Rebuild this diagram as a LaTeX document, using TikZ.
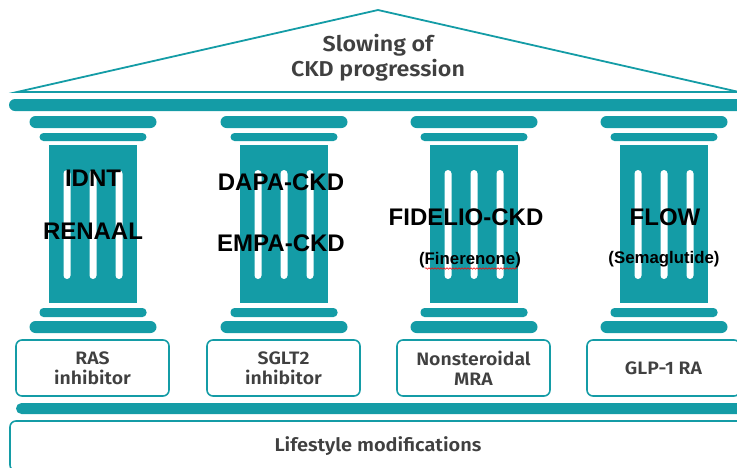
\documentclass[tikz,border=0pt]{standalone}
\usepackage{fontspec}
\setmainfont{Liberation Sans}
\newfontfamily\grayfont{Fira Sans SemiBold}[FakeStretch=1.08]
\usetikzlibrary{decorations.pathmorphing}
\definecolor{teal1}{HTML}{149CA6}
\definecolor{txtgray}{HTML}{404040}
\begin{document}
\begin{tikzpicture}[x=1pt,y=-1pt,
  bar/.style={fill=teal1, rounded corners=#1},
  drugbox/.style={draw=teal1, line width=1.6pt, rounded corners=6pt, minimum width=153pt, minimum height=56pt, inner sep=0pt, align=center, font=\grayfont\fontsize{18}{20}\selectfont, text=txtgray},
  trial/.style={font=\bfseries\fontsize{24}{26}\selectfont, text=black, inner sep=0pt},
  sub/.style={font=\bfseries\fontsize{16.8}{18}\selectfont, text=black, inner sep=0pt},
  rooftext/.style={font=\grayfont\fontsize{21.5}{25}\selectfont, text=txtgray, align=center, inner sep=0pt}]
\useasboundingbox (0,0) rectangle (737,467);
\clip (0,0) rectangle (737,467);
% roof
\draw[teal1, line width=1.8pt, line join=miter] (17,92) -- (378,10) -- (739,92) -- cycle;
\node[rooftext] (roof) at (378,57.5) {Slowing of\\CKD progression};
% entablature
\fill[bar=6pt] (9,99) rectangle (760,111);
% pillars
\foreach \cx in {93,284,474,664}{
  \fill[bar=6pt] (\cx-63.5,116) rectangle (\cx+63.5,128);
  \fill[bar=4pt] (\cx-53.5,133) rectangle (\cx+53.5,141);
  \fill[teal1] (\cx-44,145) rectangle (\cx+44,303);
  \foreach \dx in {-26,0,26}{
    \fill[white, rounded corners=3.5pt] (\cx+\dx-3.5,170) rectangle (\cx+\dx+3.5,279);
  }
  \fill[bar=4pt] (\cx-53.5,308) rectangle (\cx+53.5,317);
  \fill[bar=6pt] (\cx-63.5,321) rectangle (\cx+63.5,333);
}
% trial names
\node[trial] (idnt) at (93,178) {IDNT};
\node[trial] (renaal) at (93,231) {RENAAL};
\node[trial] (dapa) at (281,182) {DAPA-CKD};
\node[trial] (empa) at (281,243) {EMPA-CKD};
\node[trial] (fidelio) at (466,217) {FIDELIO-CKD};
\node[sub] (finer) at (470,260) {(Finerenone)};
\node[trial] (flow) at (665,217) {FLOW};
\node[sub] (sema) at (664,259) {(Semaglutide)};
\draw[red, line width=0.5pt, decorate, decoration={snake, amplitude=0.8pt, segment length=3pt}] (425,268.5) -- (517,268.5);
% drug class boxes
\node[drugbox] (ras) at (92.5,368) {RAS\\inhibitor};
\node[drugbox] (sglt) at (283.5,368) {SGLT2\\inhibitor};
\node[drugbox] (mra) at (473.5,368) {Nonsteroidal\\MRA};
\node[drugbox] (glp) at (663.5,368) {GLP-1 RA};
% base
\fill[bar=5.5pt] (16,403) rectangle (760,414);
\node[draw=teal1, line width=1.6pt, rounded corners=6pt, minimum width=736pt, minimum height=50pt, inner sep=0pt, font=\grayfont\fontsize{18.5}{20}\selectfont, text=txtgray] (life) at (378,446) {Lifestyle modifications};
\end{tikzpicture}
\end{document}
